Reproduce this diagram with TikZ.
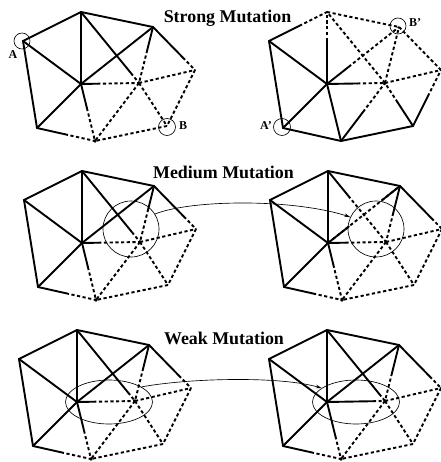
\documentclass[tikz,border=0pt]{standalone}
\usepackage{fontspec}
\setmainfont{Liberation Serif}
\usetikzlibrary{calc,arrows.meta,shapes.geometric}
\tikzset{
  x=1pt,y=-1pt,
  solidedge/.style={line width=1.9pt,line cap=round},
  dashedge/.style={line width=1.9pt,dash pattern=on 3.2pt off 2.5pt},
  thinring/.style={draw,circle,line width=.65pt,inner sep=0pt},
  thinell/.style={draw,ellipse,line width=.65pt,inner sep=0pt,minimum width=87pt,minimum height=44pt},
  link/.style={line width=.65pt,-{Stealth[length=6pt,width=3.6pt]}},
  headline/.style={font=\bfseries\fontsize{17.9}{20}\selectfont,inner sep=0pt},
  tag/.style={font=\bfseries\fontsize{12}{14}\selectfont,inner sep=0pt}
}
% mesh vertices of one panel
\newcommand{\meshat}[3]{%
  \coordinate (#1A) at (23+#2,41+#3);
  \coordinate (#1T) at (81+#2,12+#3);
  \coordinate (#1R) at (153+#2,27+#3);
  \coordinate (#1E) at (195+#2,70+#3);
  \coordinate (#1B) at (167+#2,126+#3);
  \coordinate (#1D) at (95+#2,141+#3);
  \coordinate (#1L) at (37+#2,128+#3);
  \coordinate (#1C) at (81+#2,84+#3);
  \coordinate (#1I) at (139+#2,83+#3);
}
\newcommand{\sol}[2]{\draw[solidedge] (#1) -- (#2);}
\newcommand{\das}[2]{\draw[dashedge] (#1) -- (#2);}
\newcommand{\seg}[3]{%
  \draw[solidedge] (#1) -- ($(#1)!#3!(#2)$);
  \draw[dashedge] ($(#1)!#3!(#2)$) -- (#2);}
\newcommand{\blob}[1]{\fill (#1) circle[radius=1.8pt];}
% the offspring pattern shared by four panels
\newcommand{\outermesh}[7]{%
  \sol{#1A}{#1T}\sol{#1T}{#1R}\sol{#1A}{#1C}\sol{#1T}{#1C}\sol{#1A}{#1L}\sol{#1L}{#1C}
  \seg{#1T}{#1I}{#2}\seg{#1R}{#1I}{#3}\seg{#1R}{#1E}{#4}\seg{#1C}{#1I}{#5}
  \seg{#1C}{#1D}{#6}\seg{#1L}{#1D}{#7}
  \das{#1I}{#1B}\das{#1I}{#1D}\das{#1I}{#1E}\das{#1E}{#1B}\das{#1B}{#1D}
  \blob{#1I}\blob{#1D}}
\begin{document}
\begin{tikzpicture}
\useasboundingbox (0,0) rectangle (440,462);
\meshat{a}{0}{0}
\meshat{b}{246}{0}
\meshat{c}{1}{159}
\meshat{d}{247}{159}
\meshat{e}{-4}{318}
\meshat{f}{246}{318}
% strong, left
\outermesh{a}{.86}{.41}{.71}{.28}{.42}{.48}
\sol{aR}{aC}
% strong, right
\seg{bA}{bT}{.52}\seg{bC}{bT}{.6}\seg{bC}{bR}{.3}\sol{bA}{bC}\sol{bA}{bL}\sol{bL}{bC}
\sol{bL}{bD}\sol{bC}{bD}\sol{bD}{bB}\seg{bD}{bI}{.5}\seg{bB}{bI}{.55}\seg{bB}{bE}{.53}
\seg{bC}{bI}{.52}\das{bT}{bR}\das{bI}{bT}\das{bI}{bR}\das{bI}{bE}\das{bR}{bE}
\blob{bI}
% medium
\outermesh{c}{.86}{.41}{.71}{.28}{.42}{.48}
\sol{cR}{cC}
\outermesh{d}{.35}{.48}{.75}{.3}{.38}{.5}
\das{dC}{dR}\sol{dC}{$(dC)!.29!(dR)$}\sol{$(dC)!.75!(dR)$}{dR}
% weak
\outermesh{e}{.88}{.41}{.71}{.28}{.5}{.48}
\sol{eR}{eC}
\outermesh{f}{.9}{.5}{.73}{.79}{.6}{.48}
\sol{fR}{fC}
% marked vertices
\node[thinring,minimum size=16pt] (ra) at (22,41) {};
\node[thinring,minimum size=17pt] (rb) at (167,127) {};
\node[thinring,minimum size=17pt] (rap) at (282,127) {};
\node[thinring,minimum size=16pt] (rbp) at (398,26) {};
\node[tag] (la) at (13,55) {A};
\node[tag] (lb) at (183,126) {B};
\node[tag] (lap) at (266,126) {A'};
\node[tag] (lbp) at (415,23) {B'};
% mutation regions
\node[thinring,minimum size=56pt] (ml) at (131,229) {};
\node[thinring,minimum size=56pt] (mr) at (376,229) {};
\node[thinell] (wl) at (109,402) {};
\node[thinell] (wr) at (356,402) {};
\draw[link] (ml.32) .. controls (190,200) and (290,198) .. (mr.155);
\draw[link] (wl.25) .. controls (190,378) and (280,376) .. (wr.158);
% titles
\node[headline] (t1) at (227.5,18) {Strong Mutation};
\node[headline] (t2) at (223.5,172) {Medium Mutation};
\node[headline] (t3) at (224,338) {Weak Mutation};
\end{tikzpicture}
\end{document}
